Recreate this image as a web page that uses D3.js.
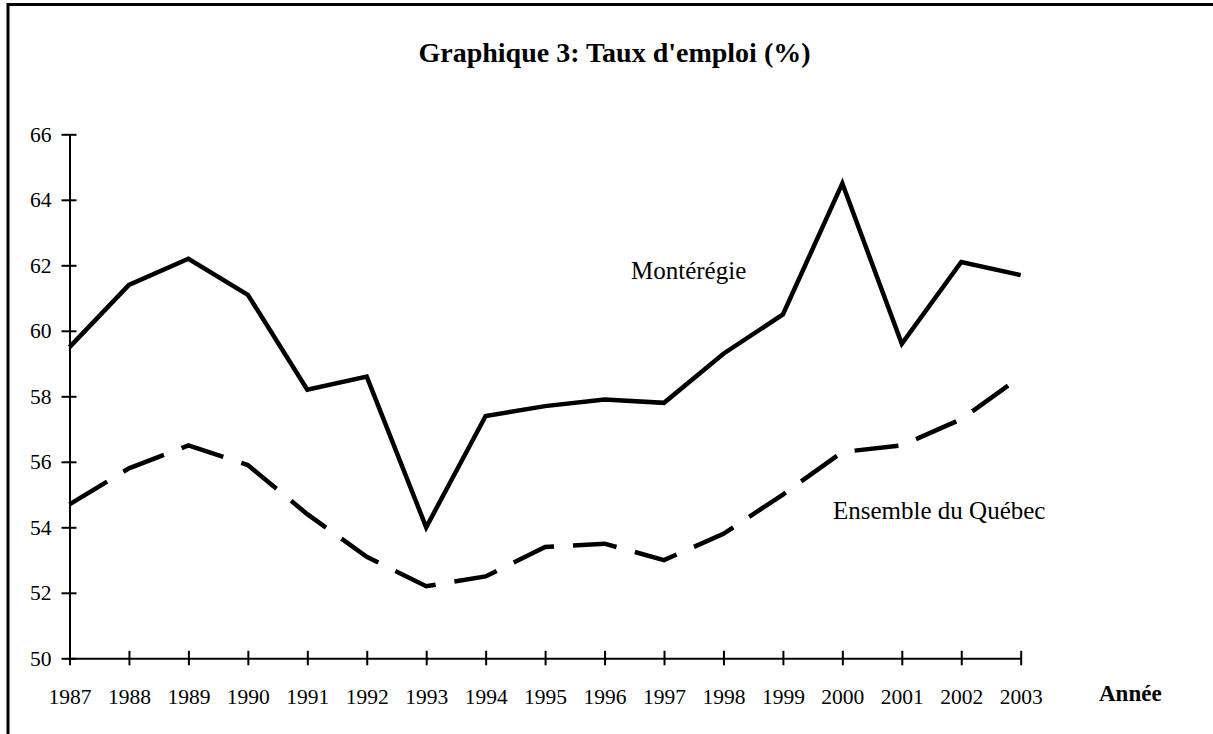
<!DOCTYPE html>
<html>
<head>
<meta charset="utf-8">
<script src="https://cdn.jsdelivr.net/npm/d3@7"></script>
<style>
  html, body { margin: 0; padding: 0; background: #fff; }
  svg { display: block; }
  text { font-family: "Liberation Serif", "Times New Roman", serif; fill: #000; }
</style>
</head>
<body>
<svg id="chart" width="1213" height="734"></svg>
<script>
const years = [1987,1988,1989,1990,1991,1992,1993,1994,1995,1996,1997,1998,1999,2000,2001,2002,2003];
const monteregie = [59.5,61.4,62.2,61.1,58.2,58.6,54.0,57.4,57.7,57.9,57.8,59.3,60.5,64.5,59.6,62.1,61.7];
const quebec = [54.7,55.8,56.5,55.9,54.4,53.1,52.2,52.5,53.4,53.5,53.0,53.8,55.0,56.3,56.5,57.3,58.6];
const yTicks = [50,52,54,56,58,60,62,64,66];
const title = "Graphique 3: Taux d'emploi (%)";
const xTitle = "Année";
const seriesLabels = ["Montérégie", "Ensemble du Québec"];

const svg = d3.select("#chart");

// outer frame
svg.append("rect")
  .attr("x", 8).attr("y", 4.5)
  .attr("width", 1400).attr("height", 1000)
  .attr("fill", "none").attr("stroke", "#000").attr("stroke-width", 3);

const x = d3.scaleLinear().domain([1987, 2003]).range([69.5, 1020.7]);
const y = d3.scaleLinear().domain([50, 66]).range([658.3, 134.3]);

// title
svg.append("text")
  .attr("x", 614.5).attr("y", 62)
  .attr("text-anchor", "middle")
  .style("font-weight", "bold").style("font-size", "28px")
  .text(title);

// y axis
const gy = svg.append("g").attr("transform", `translate(${x(1987)},0)`)
  .call(d3.axisLeft(y).tickValues(yTicks).tickFormat(d3.format("d"))
        .tickSizeInner(8).tickSizeOuter(0).tickPadding(10));
gy.select(".domain").attr("stroke", "#000").attr("stroke-width", 2);
gy.selectAll(".tick line").attr("x1", 7).attr("stroke", "#000").attr("stroke-width", 2);
gy.selectAll(".tick text").style("font-size", "21.5px")
  .style("font-family", '"Liberation Serif", "Times New Roman", serif').attr("fill", "#000");

// x axis
const gx = svg.append("g").attr("transform", `translate(0,${y(50)})`)
  .call(d3.axisBottom(x).tickValues(years).tickFormat(d3.format("d"))
        .tickSizeInner(7).tickSizeOuter(0).tickPadding(10));
gx.select(".domain").attr("stroke", "#000").attr("stroke-width", 2);
gx.selectAll(".tick line").attr("y1", -7.5).attr("stroke", "#000").attr("stroke-width", 2);
gx.selectAll(".tick text").attr("y", 46).attr("dy", null)
  .style("font-size", "21.5px")
  .style("font-family", '"Liberation Serif", "Times New Roman", serif').attr("fill", "#000");

// x title
svg.append("text")
  .attr("x", 1099).attr("y", 701)
  .style("font-weight", "bold").style("font-size", "23px")
  .text(xTitle);

const line = d3.line().x((d, i) => x(years[i])).y(d => y(d));

svg.append("path").datum(monteregie)
  .attr("d", line).attr("fill", "none")
  .attr("stroke", "#000").attr("stroke-width", 4.5)
  .attr("stroke-linejoin", "miter");

svg.append("path").datum(quebec)
  .attr("d", line).attr("fill", "none")
  .attr("stroke", "#000").attr("stroke-width", 4.5)
  .attr("stroke-dasharray", "44,19");

svg.append("text")
  .attr("x", 631).attr("y", 279)
  .style("font-size", "25px")
  .text(seriesLabels[0]);

svg.append("text")
  .attr("x", 833).attr("y", 519)
  .style("font-size", "25px")
  .text(seriesLabels[1]);
</script>
</body>
</html>
